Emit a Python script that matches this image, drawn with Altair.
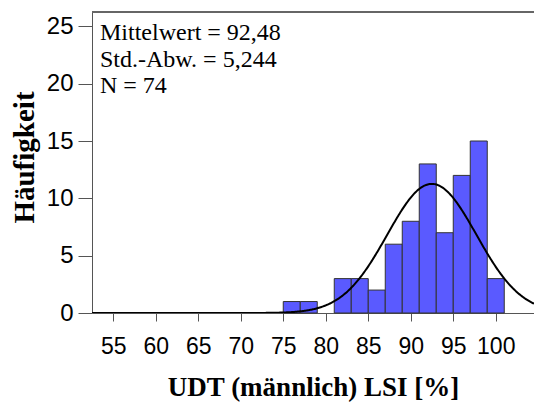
import altair as alt
import pandas as pd

# Histogram bins (lower / upper edges) and counts
bin_start = [75, 77, 79, 81, 83, 85, 87, 89, 91, 93, 95, 97, 99]
bin_end = [77, 79, 81, 83, 85, 87, 89, 91, 93, 95, 97, 99, 101]
counts = [1, 1, 0, 3, 3, 2, 6, 8, 13, 7, 12, 15, 3]

# Stated statistics
mean_val = 92.48
sd_val = 5.244
n_val = 74
bin_width = 2

x_ticks = [55, 60, 65, 70, 75, 80, 85, 90, 95, 100]
y_ticks = [0, 5, 10, 15, 20, 25]
stats_lines = ["Mittelwert = 92,48", "Std.-Abw. = 5,244", "N = 74"]

x_dom = [52.5, 104.5]
y_dom = [0, 26.25]

bars_df = pd.DataFrame({"start": bin_start, "end": bin_end, "count": counts})
bars_df = bars_df[bars_df["count"] > 0]

xscale = alt.Scale(domain=x_dom, nice=False, zero=False)
yscale = alt.Scale(domain=y_dom, nice=False)

x_axis = alt.Axis(
    values=x_ticks, title="UDT (männlich) LSI [%]", grid=False,
    tickSize=8, labelPadding=14, labelFontSize=23, labelFont="Liberation Sans",
    labelColor="black", domainColor="#555555", tickColor="#555555",
    titleFont="Liberation Serif", titleFontSize=27, titleFontWeight="bold",
    titleColor="black", titleY=82, titleBaseline="alphabetic",
)
y_axis = alt.Axis(
    values=y_ticks, title="Häufigkeit", grid=False,
    tickSize=14, labelPadding=5, labelFontSize=24, labelFont="Liberation Sans",
    labelColor="black", domainColor="#555555", tickColor="#555555",
    titleFont="Liberation Serif", titleFontSize=29, titleFontWeight="bold",
    titleColor="black", titleX=-59, titleY=145, titleBaseline="alphabetic",
)

bars = alt.Chart(bars_df).mark_rect(
    color="#5a5aff", stroke="#333333", strokeWidth=1
).encode(
    x=alt.X("start:Q", scale=xscale, axis=x_axis),
    x2="end:Q",
    y=alt.Y("count:Q", scale=yscale, axis=y_axis),
    y2=alt.datum(0),
)

curve = alt.Chart(alt.sequence(52.5, 104.55, 0.1, as_="xv")).transform_calculate(
    yv=f"{n_val} * {bin_width} * densityNormal(datum.xv, {mean_val}, {sd_val})"
).mark_line(color="black", strokeWidth=2, clip=True).encode(
    x=alt.X("xv:Q", scale=xscale),
    y=alt.Y("yv:Q", scale=yscale),
)

top_line = alt.Chart(pd.DataFrame({"y": [y_dom[1]]})).mark_rule(
    color="#666666", strokeWidth=2
).encode(y=alt.Y("y:Q", scale=yscale))

stats = alt.Chart(pd.DataFrame({"t": ["\n".join(stats_lines)]})).mark_text(
    align="left", baseline="alphabetic", font="Liberation Serif",
    fontSize=24, lineHeight=26.5, color="black", lineBreak="\n",
).encode(text="t:N", x=alt.value(8), y=alt.value(28))

chart = alt.layer(bars, curve, top_line, stats).properties(
    width=442, height=301,
    autosize=alt.AutoSizeParams(type="none"),
    padding={"left": 92, "top": 12, "right": 0, "bottom": 90},
).configure_view(stroke=None).configure(background="white")

chart.save("out.html", embed_options={"renderer": "svg", "actions": False})
